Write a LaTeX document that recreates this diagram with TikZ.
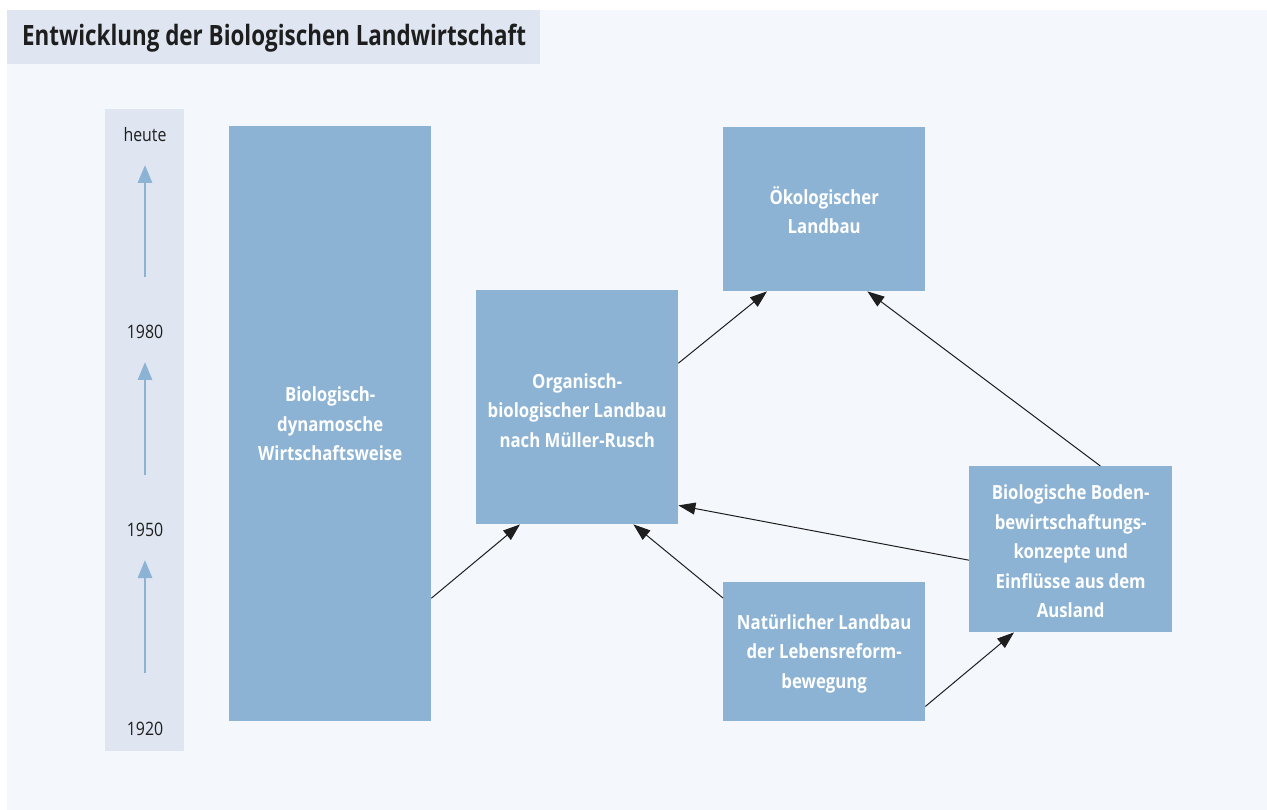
\documentclass[tikz,border=0pt]{standalone}
\usepackage{fontspec}
\setmainfont[FakeStretch=0.86]{Open Sans}
\newfontfamily\titlefont[FakeStretch=0.8]{Open Sans}
\usetikzlibrary{arrows.meta}
\definecolor{panel}{HTML}{F4F7FC}
\definecolor{strip}{HTML}{DFE6F1}
\definecolor{boxc}{HTML}{8CB3D4}
\definecolor{tarrow}{HTML}{8CB3D4}
\definecolor{ink}{HTML}{1E1E1E}
\tikzset{
  box/.style={fill=boxc, draw=none, anchor=north west, inner sep=0pt},
  lbl/.style={text=white, font=\fontsize{19.5}{29.5}\selectfont\bfseries, align=center, anchor=center, inner sep=0pt},
  yr/.style={text=ink, font=\fontsize{18.5}{22}\selectfont},
  conn/.style={draw=ink, line width=1pt, -{Triangle[length=17pt,width=12pt]}},
  tarr/.style={draw=tarrow, line width=2.8pt, -{Triangle[length=18pt,width=14pt]}}
}
\begin{document}
\begin{tikzpicture}[x=1pt,y=-1pt]
\useasboundingbox (0,0) rectangle (1267,810);
\fill[white] (0,0) rectangle (1267,810);
\fill[panel] (7,10) rectangle (1267,810);
\fill[strip] (7,10) rectangle (540,64);
\node[anchor=west, text=ink, font=\titlefont\fontsize{28}{30}\selectfont\bfseries, inner sep=0pt] (title) at (22,38) {Entwicklung der Biologischen Landwirtschaft};
% timeline
\fill[strip] (105,109) rectangle (184,751);
\node[yr] (heute) at (145,135) {heute};
\node[yr] (y1980) at (145,332) {1980};
\node[yr] (y1950) at (145,530) {1950};
\node[yr] (y1920) at (145,729) {1920};
\coordinate (t1s) at (145,277); \coordinate (t1e) at (145,165);
\coordinate (t2s) at (145,475); \coordinate (t2e) at (145,362);
\coordinate (t3s) at (145,673); \coordinate (t3e) at (145,560);
\draw[tarr] (t1s) -- (t1e);
\draw[tarr] (t2s) -- (t2e);
\draw[tarr] (t3s) -- (t3e);
% boxes
\node[box, minimum width=202pt, minimum height=595pt] (bd) at (229,126) {};
\node[lbl] (bdl) at (bd.center) {Biologisch-\\dynamosche\\Wirtschaftsweise};
\node[box, minimum width=202pt, minimum height=234pt] (ob) at (476,290) {};
\node[lbl] (obl) at ([yshift=-3pt]ob.center) {Organisch-\\biologischer Landbau\\nach Müller-Rusch};
\node[box, minimum width=202pt, minimum height=164pt] (ok) at (723,127) {};
\node[lbl] (okl) at ([yshift=-1pt]ok.center) {Ökologischer\\Landbau};
\node[box, minimum width=203pt, minimum height=166pt] (bb) at (969,466) {};
\node[lbl] (bbl) at ([yshift=-2pt]bb.center) {Biologische Boden-\\bewirtschaftungs-\\konzepte und\\Einflüsse aus dem\\Ausland};
\node[box, minimum width=202pt, minimum height=139pt] (nl) at (723,582) {};
\node[lbl] (nll) at ([yshift=-2pt]nl.center) {Natürlicher Landbau\\der Lebensreform-\\bewegung};
% connectors
\draw[conn] ([yshift=-174.5pt]bd.east) -- ([xshift=44pt]ob.south west);
\draw[conn] ([yshift=44pt]ob.east) -- ([xshift=44pt]ok.south west);
\draw[conn] ([xshift=-72pt]bb.north east) -- ([xshift=-58pt]ok.south east);
\draw[conn] ([yshift=-11pt]bb.west) -- ([yshift=19pt]ob.south east);
\draw[conn] ([yshift=-16pt]nl.north west) -- ([xshift=-45pt]ob.south east);
\draw[conn] ([yshift=15pt]nl.south east) -- ([xshift=45pt]bb.south west);
\end{tikzpicture}
\end{document}
